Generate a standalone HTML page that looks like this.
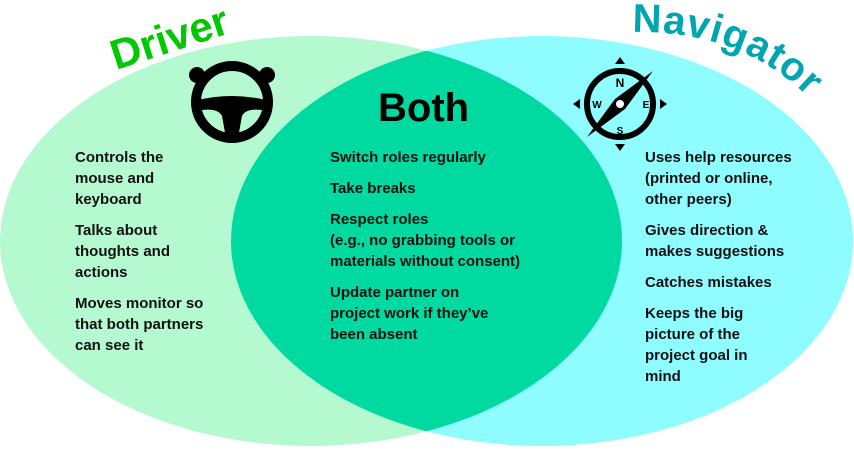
<!DOCTYPE html>
<html><head><meta charset="utf-8"><style>
body{margin:0;width:854px;height:451px;background:#fff;overflow:hidden;position:relative;font-family:"Liberation Sans",sans-serif}
svg{position:absolute;left:0;top:0}
.c{position:absolute;font-weight:bold;font-size:15px;line-height:21px;color:#111}
.c p{margin:0 0 10px 0}
</style></head><body>
<svg width="854" height="451" viewBox="0 0 854 451">
<defs>
<clipPath id="L"><ellipse cx="311" cy="241" rx="311" ry="205"/></clipPath>
<path id="arc" d="M632,32 Q765,30 836,130" fill="none"/>
</defs>
<ellipse cx="311" cy="241" rx="311" ry="205" fill="#b5f9d0"/>
<ellipse cx="542" cy="241" rx="311" ry="205" fill="#8ffcff"/>
<ellipse cx="542" cy="241" rx="311" ry="205" fill="#00d9a0" clip-path="url(#L)"/>
<text x="0" y="0" transform="translate(116,70) rotate(-18)" font-family="Liberation Sans" font-weight="bold" font-size="42" fill="#00c800">Driver</text>
<text font-family="Liberation Sans" font-weight="bold" font-size="40" fill="#00a5b0" letter-spacing="1"><textPath href="#arc">Navigator</textPath></text>
<text x="378" y="121" font-family="Liberation Sans" font-weight="bold" font-size="40" fill="#000">Both</text>
<g transform="translate(232,102)">
<circle cx="0" cy="0" r="36" fill="none" stroke="#000" stroke-width="10"/>
<circle cx="-35" cy="-27" r="8" fill="#000"/><circle cx="35" cy="-27" r="8" fill="#000"/>
<path d="M-34,-2 Q0,-10 34,-2 L30,8 Q14,6 10,14 L6,36 L-6,36 L-10,14 Q-14,6 -30,8 Z" fill="#000"/>
</g>
<g transform="translate(620,104)">
<circle r="33" fill="none" stroke="#000" stroke-width="6"/>
<polygon points="0,-47 -5,-40 5,-40" fill="#000"/><polygon points="0,47 -5,40 5,40" fill="#000"/>
<polygon points="-47,0 -40,-5 -40,5" fill="#000"/><polygon points="47,0 40,-5 40,5" fill="#000"/>
<polygon points="33,-33 5,5 -33,33 -5,-5" fill="#000"/>
<circle r="4" fill="#fff"/>
<text x="0" y="-17" text-anchor="middle" font-family="Liberation Sans" font-weight="bold" font-size="12">N</text>
<text x="0" y="30" text-anchor="middle" font-family="Liberation Sans" font-weight="bold" font-size="10">S</text>
<text x="-23" y="4" text-anchor="middle" font-family="Liberation Sans" font-weight="bold" font-size="10">W</text>
<text x="26" y="4" text-anchor="middle" font-family="Liberation Sans" font-weight="bold" font-size="10">E</text>
</g>
</svg>
<div class="c" style="left:75px;top:147px;width:170px">
<p>Controls the<br>mouse and<br>keyboard</p>
<p>Talks about<br>thoughts and<br>actions</p>
<p>Moves monitor so<br>that both partners<br>can see it</p>
</div>
<div class="c" style="left:330px;top:147px;width:240px">
<p>Switch roles regularly</p>
<p>Take breaks</p>
<p>Respect roles<br>(e.g., no grabbing tools or<br>materials without consent)</p>
<p>Update partner on<br>project work if they’ve<br>been absent</p>
</div>
<div class="c" style="left:645px;top:147px;width:180px">
<p>Uses help resources<br>(printed or online,<br>other peers)</p>
<p>Gives direction &amp;<br>makes suggestions</p>
<p>Catches mistakes</p>
<p>Keeps the big<br>picture of the<br>project goal in<br>mind</p>
</div>
</body></html>
